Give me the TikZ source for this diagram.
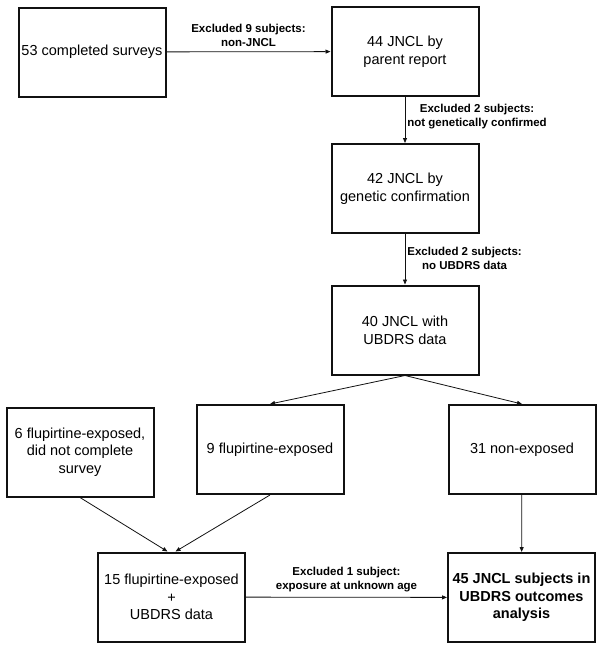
\documentclass[tikz,border=0pt]{standalone}
\usepackage{fontspec}
\setmainfont{Liberation Sans}
\usetikzlibrary{arrows.meta,positioning}
\definecolor{ink}{HTML}{111111}
\newcommand{\boxfont}{\fontsize{14.5}{17.7}\selectfont}
\newcommand{\lblfont}{\fontsize{11.5}{14}\selectfont\bfseries}

\begin{document}
\begin{tikzpicture}[x=1pt,y=-1pt,
  stage/.style={draw=ink,line width=2pt,minimum width=147pt,minimum height=89pt,align=center,font=\boxfont,inner sep=1pt},
  lbl/.style={align=center,font=\lblfont,inner sep=2pt},
  flow/.style={draw=ink,line width=0.8pt,-{Triangle[length=5pt,width=4pt]}}]
\useasboundingbox (0,0) rectangle (602,649);
% screening column
\node[stage] (surveys) at (92,52) {53 completed surveys};
\node[stage] (parent) at (405,51.5) {44 JNCL by\\parent report};
\node[stage] (genetic) at (405,188.5) {42 JNCL by\\genetic confirmation};
\node[stage] (ubdrs) at (405,330) {40 JNCL with\\UBDRS data};
% exposure groups
\node[stage] (notsurv) at (80,452) {6 flupirtine-exposed,\\did not complete\\survey};
\node[stage] (flup) at (270,449.5) {9 flupirtine-exposed};
\node[stage] (nonexp) at (522,449.5) {31 non-exposed};
\node[stage] (flupall) at (171.5,597) {15 flupirtine-exposed\\+\\UBDRS data};
\node[stage,font=\boxfont\bfseries] (final) at (521.5,597.5) {45 JNCL subjects in\\UBDRS outcomes\\analysis};
% connectors
\draw[flow] (surveys) -- (parent) node[midway,above,lbl,yshift=3pt]{Excluded 9 subjects:\\non-JNCL};
\draw[flow] (parent) -- (genetic) node[midway,right,lbl,yshift=3pt]{Excluded 2 subjects:\\not genetically confirmed};
\draw[flow] (genetic) -- (ubdrs) node[midway,right,lbl,yshift=1pt]{Excluded 2 subjects:\\no UBDRS data};
\draw[flow] (ubdrs.south) -- (flup.north);
\draw[flow] (ubdrs.south) -- (nonexp.north);
\draw[flow] (notsurv.south) -- ([xshift=-4pt]flupall.north);
\draw[flow] (flup.south) -- ([xshift=4pt]flupall.north);
\draw[flow] (nonexp) -- (final);
\draw[flow] (flupall) -- (final) node[midway,above,lbl,yshift=3pt]{Excluded 1 subject:\\exposure at unknown age};
\end{tikzpicture}
\end{document}
